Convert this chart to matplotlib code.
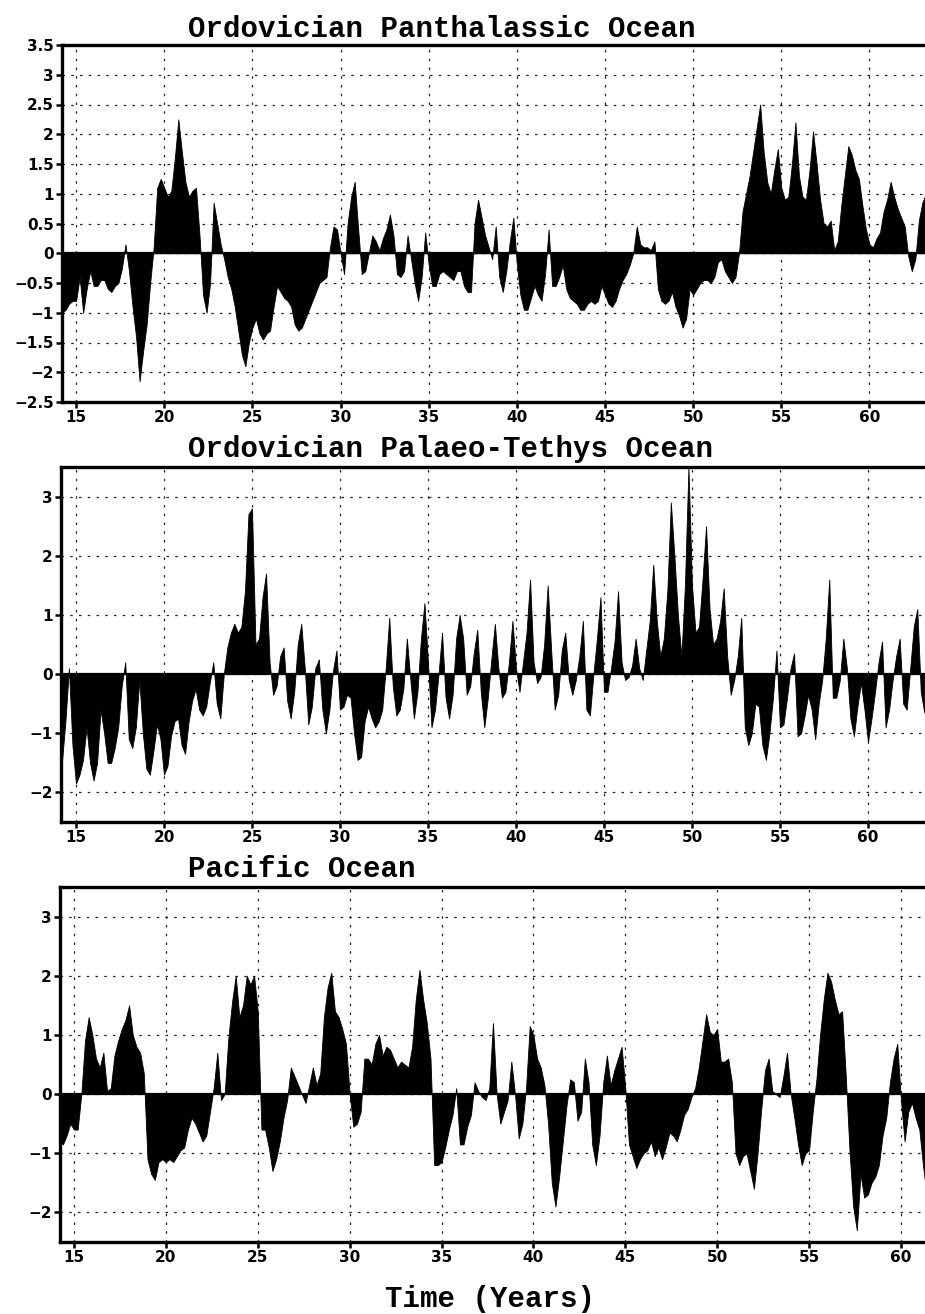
import numpy as np
import matplotlib
matplotlib.use("Agg")
import matplotlib.pyplot as plt

# Anomaly values, one every 0.2 years starting at year 14.2
# (each row covers one year: x.2, x.4, x.6, x.8, x+1.0)
panthalassic = [
    -1.0, -0.95, -0.85, -0.8, -0.8,
    -0.4, -1.0, -0.6, -0.3, -0.55,
    -0.55, -0.45, -0.45, -0.6, -0.65,
    -0.55, -0.5, -0.25, 0.15, -0.3,
    -0.9, -1.4, -2.15, -1.65, -1.2,
    -0.5, 0.1, 1.1, 1.25, 1.1,
    0.95, 1.05, 1.6, 2.25, 1.7,
    1.2, 0.95, 1.05, 1.1, 0.3,
    -0.7, -1.0, -0.5, 0.85, 0.5,
    0.15, -0.1, -0.4, -0.6, -0.9,
    -1.3, -1.7, -1.9, -1.5, -1.25,
    -1.1, -1.35, -1.45, -1.35, -1.3,
    -0.9, -0.55, -0.65, -0.75, -0.8,
    -0.9, -1.2, -1.3, -1.25, -1.1,
    -0.95, -0.8, -0.65, -0.5, -0.45,
    -0.4, 0.1, 0.45, 0.4, 0.0,
    -0.35, 0.5, 0.95, 1.2, 0.4,
    -0.35, -0.3, 0.0, 0.3, 0.2,
    0.05, 0.25, 0.4, 0.65, 0.3,
    -0.35, -0.4, -0.3, 0.3, -0.1,
    -0.5, -0.8, -0.4, 0.35, -0.2,
    -0.55, -0.55, -0.35, -0.3, -0.35,
    -0.4, -0.45, -0.3, -0.3, -0.55,
    -0.65, -0.65, 0.5, 0.9, 0.6,
    0.3, 0.1, -0.1, 0.45, -0.4,
    -0.65, -0.3, 0.2, 0.6, -0.2,
    -0.7, -0.95, -0.95, -0.75, -0.55,
    -0.7, -0.8, -0.35, 0.4, -0.55,
    -0.55, -0.4, -0.2, -0.6, -0.75,
    -0.8, -0.85, -0.95, -0.95, -0.85,
    -0.8, -0.85, -0.8, -0.55, -0.7,
    -0.85, -0.9, -0.8, -0.6, -0.45,
    -0.35, -0.2, 0.0, 0.45, 0.15,
    0.1, 0.1, 0.05, 0.2, -0.6,
    -0.8, -0.85, -0.8, -0.65, -0.9,
    -1.05, -1.25, -1.1, -0.6, -0.7,
    -0.6, -0.5, -0.45, -0.45, -0.5,
    -0.4, -0.15, -0.1, -0.3, -0.4,
    -0.5, -0.4, 0.0, 0.7, 1.0,
    1.3, 1.7, 2.1, 2.5, 1.7,
    1.2, 1.0, 1.4, 1.75, 1.1,
    0.9, 0.95, 1.5, 2.2, 1.3,
    0.95, 0.9, 1.4, 2.05, 1.5,
    0.9, 0.5, 0.45, 0.55, 0.05,
    0.2, 0.8, 1.3, 1.8, 1.65,
    1.4, 1.25, 0.8, 0.4, 0.15,
    0.1, 0.25, 0.35, 0.7, 0.9,
    1.2, 0.95, 0.75, 0.6, 0.45,
    -0.05, -0.3, -0.1, 0.55, 0.85,
    1.0,
]

palaeo_tethys = [
    -1.5, -0.8, 0.1, -1.2, -1.85,
    -1.7, -1.45, -0.9, -1.5, -1.8,
    -1.5, -0.6, -1.0, -1.5, -1.5,
    -1.25, -0.9, -0.2, 0.2, -1.1,
    -1.25, -0.9, -0.1, -1.0, -1.6,
    -1.7, -1.3, -0.85, -1.1, -1.7,
    -1.55, -1.05, -0.8, -0.75, -1.2,
    -1.35, -0.8, -0.45, -0.25, -0.6,
    -0.7, -0.55, -0.15, 0.2, -0.5,
    -0.75, 0.0, 0.45, 0.7, 0.85,
    0.7, 0.8, 1.4, 2.7, 2.8,
    0.5, 0.6, 1.3, 1.7, 0.2,
    -0.35, -0.2, 0.3, 0.45, -0.45,
    -0.75, -0.3, 0.5, 0.85, 0.1,
    -0.85, -0.55, 0.1, 0.25, -0.6,
    -1.0, -0.6, 0.05, 0.4, -0.6,
    -0.55, -0.35, -0.4, -1.0, -1.45,
    -1.4, -0.8, -0.55, -0.75, -0.9,
    -0.8, -0.6, 0.1, 0.95, -0.2,
    -0.7, -0.6, -0.25, 0.6, -0.1,
    -0.75, -0.3, 0.6, 1.2, 0.2,
    -0.9, -0.6, 0.0, 0.7, -0.4,
    -0.75, -0.35, 0.6, 1.0, 0.6,
    -0.35, -0.2, 0.35, 0.75, -0.3,
    -0.9, -0.4, 0.25, 0.85, 0.1,
    -0.4, -0.3, 0.2, 0.9, 0.1,
    -0.3, 0.2, 0.7, 1.6, 0.2,
    -0.15, -0.05, 0.5, 1.5, 0.4,
    -0.6, -0.35, 0.4, 0.7, -0.1,
    -0.35, -0.1, 0.3, 0.9, -0.6,
    -0.7, 0.0, 0.6, 1.3, -0.3,
    -0.3, 0.1, 0.55, 1.4, 0.2,
    -0.1, -0.05, 0.15, 0.6, 0.1,
    -0.1, 0.4, 0.9, 1.85, 0.9,
    0.3, 0.6, 1.4, 2.9, 2.0,
    1.0, 0.3, 1.5, 3.5, 1.5,
    0.7, 0.8, 1.6, 2.5, 1.1,
    0.5, 0.6, 0.9, 1.45, 0.3,
    -0.35, -0.1, 0.3, 0.95, -0.9,
    -1.2, -1.0, -0.5, -0.55, -1.2,
    -1.45, -1.0, -0.4, 0.4, -0.9,
    -0.85, -0.4, 0.1, 0.35, -1.05,
    -1.0, -0.7, -0.35, -0.6, -1.1,
    -0.5, -0.1, 0.6, 1.6, -0.4,
    -0.4, -0.1, 0.6, 0.1, -0.75,
    -1.05, -0.55, -0.15, -0.6, -1.15,
    -0.75, -0.3, 0.2, 0.55, -0.9,
    -0.6, -0.1, 0.3, 0.6, -0.5,
    -0.6, 0.1, 0.8, 1.1, -0.3,
    -0.65,
]

pacific = [
    -0.8, -0.85, -0.7, -0.5, -0.6,
    -0.6, 0.0, 0.9, 1.3, 1.0,
    0.6, 0.45, 0.7, 0.05, 0.1,
    0.65, 0.9, 1.1, 1.25, 1.5,
    1.0, 0.8, 0.7, 0.35, -1.1,
    -1.35, -1.45, -1.15, -1.1, -1.15,
    -1.1, -1.15, -1.05, -0.95, -0.9,
    -0.6, -0.4, -0.5, -0.65, -0.8,
    -0.7, -0.3, 0.1, 0.7, -0.1,
    0.0, 0.95, 1.55, 2.0, 1.3,
    1.5, 2.0, 1.85, 2.0, 1.4,
    -0.6, -0.6, -0.9, -1.3, -1.1,
    -0.8, -0.4, -0.1, 0.45, 0.3,
    0.15, 0.0, -0.15, 0.15, 0.45,
    0.15, 0.35, 1.3, 1.8, 2.05,
    1.4, 1.3, 1.1, 0.85, 0.0,
    -0.55, -0.5, -0.3, 0.6, 0.6,
    0.5, 0.85, 1.0, 0.65, 0.8,
    0.75, 0.6, 0.45, 0.55, 0.5,
    0.45, 0.8, 1.6, 2.1, 1.6,
    1.2, 0.6, -1.2, -1.2, -1.15,
    -0.9, -0.6, -0.35, 0.1, -0.85,
    -0.85, -0.55, -0.35, 0.2, 0.05,
    -0.05, -0.1, 0.1, 1.2, 0.0,
    -0.5, -0.3, -0.1, 0.55, 0.0,
    -0.75, -0.5, 0.1, 1.15, 1.0,
    0.6, 0.45, 0.15, -0.5, -1.5,
    -1.9, -1.4, -0.8, -0.2, 0.25,
    0.2, -0.45, -0.3, 0.6, 0.2,
    -0.85, -1.2, -0.7, 0.2, 0.65,
    0.15, 0.4, 0.6, 0.8, 0.1,
    -0.85, -1.05, -1.25, -1.1, -1.0,
    -0.95, -0.8, -1.05, -0.9, -1.1,
    -0.9, -0.65, -0.7, -0.8, -0.6,
    -0.35, -0.25, -0.05, 0.1, 0.45,
    0.9, 1.35, 1.05, 1.0, 1.1,
    0.55, 0.55, 0.6, 0.2, -1.0,
    -1.2, -1.05, -1.0, -1.3, -1.6,
    -1.0, -0.25, 0.4, 0.6, 0.05,
    0.0, -0.05, 0.3, 0.7, 0.0,
    -0.4, -0.85, -1.2, -1.0, -0.95,
    -0.3, 0.25, 1.0, 1.6, 2.05,
    1.9, 1.6, 1.35, 1.4, 0.3,
    -0.95, -1.9, -2.3, -1.35, -1.75,
    -1.7, -1.5, -1.4, -1.2, -0.7,
    -0.4, 0.2, 0.6, 0.85, -0.1,
    -0.8, -0.3, -0.15, -0.4, -0.6,
    -1.2, -1.7,
]

start_year = 14.2
step = 0.2

titles = ["Ordovician Panthalassic Ocean",
          "Ordovician Palaeo-Tethys Ocean",
          "Pacific Ocean"]
year_ticks = [15, 20, 25, 30, 35, 40, 45, 50, 55, 60]
half_ticks = [-2.5, -2, -1.5, -1, -0.5, 0, 0.5, 1, 1.5, 2, 2.5, 3, 3.5]
half_labels = ["\u22122.5", "\u22122", "\u22121.5", "\u22121", "\u22120.5", "0", "0.5",
               "1", "1.5", "2", "2.5", "3", "3.5"]
int_ticks = [-2, -1, 0, 1, 2, 3]
int_labels = ["\u22122", "\u22121", "0", "1", "2", "3"]

W, H = 925, 1314
fig = plt.figure(figsize=(W / 100, H / 100), dpi=100)
fig.patch.set_facecolor("white")

title_font = dict(family="Liberation Mono", weight="bold", size=21)
tick_font = dict(family="DejaVu Sans", weight="bold", size=11)

# (left px, top px, bottom px, xlim, series, yticks, ylabels, title baseline px)
panels = [
    (62, 45, 402, (14.2, 63.15), panthalassic, half_ticks, half_labels, 37),
    (61, 467, 822, (14.15, 63.24), palaeo_tethys, int_ticks, int_labels, 457),
    (60, 887, 1242, (14.24, 61.31), pacific, int_ticks, int_labels, 877),
]

for (left, top, bottom, xlim, series, yt, yl, tbase), title in zip(panels, titles):
    ax = fig.add_axes([left / W, 1 - bottom / H, 1 - left / W, (bottom - top) / H])
    t = start_year + step * np.arange(len(series))
    ax.fill_between(t, series, 0, facecolor="black", edgecolor="black", linewidth=0.6)
    ax.axhline(0, color="black", lw=1.6)
    ax.set_xlim(*xlim)
    ax.set_ylim(-2.5, 3.5)
    ax.set_xticks(year_ticks)
    ax.set_xticklabels([str(v) for v in year_ticks], **tick_font)
    ax.set_yticks(yt)
    ax.set_yticklabels(yl, **tick_font)
    ax.grid(True, color="#222222", linestyle=(0, (2, 5)), linewidth=0.9)
    ax.set_axisbelow(True)
    for side in ["top", "left", "bottom"]:
        ax.spines[side].set_linewidth(2.4)
    ax.spines["right"].set_visible(False)
    ax.tick_params(direction="out", length=4, width=1.8, pad=2)
    fig.text(188 / W, 1 - tbase / H, title, ha="left", va="baseline", **title_font)

fig.text(490 / W, 1 - 1307 / H, "Time (Years)", ha="center", va="baseline", **title_font)

fig.savefig("out.png", dpi=100, facecolor="white")
